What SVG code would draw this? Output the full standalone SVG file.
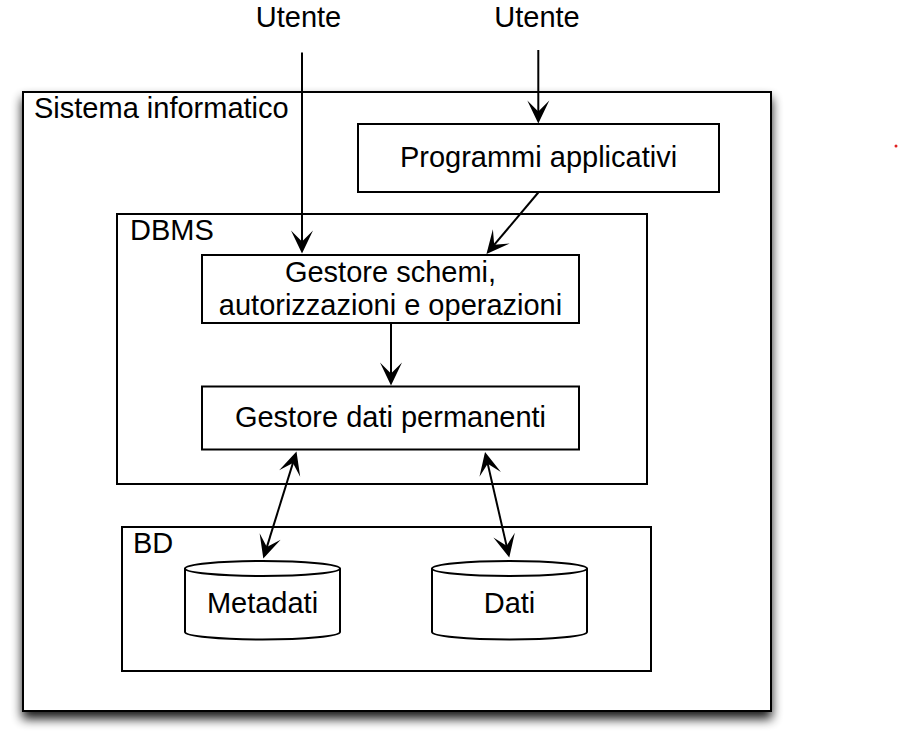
<svg xmlns="http://www.w3.org/2000/svg" width="899" height="738" viewBox="0 0 899 738">
  <defs>
    <filter id="shadow" x="-10%" y="-10%" width="120%" height="125%">
      <feGaussianBlur in="SourceAlpha" stdDeviation="5.5"/>
      <feOffset dx="0" dy="7" result="b"/>
      <feComponentTransfer><feFuncA type="linear" slope="0.9"/></feComponentTransfer>
      <feMerge><feMergeNode/><feMergeNode in="SourceGraphic"/></feMerge>
    </filter>
    <marker id="arrow" viewBox="-24 -12 30 24" refX="-3" refY="0" markerWidth="30" markerHeight="24" markerUnits="userSpaceOnUse" orient="auto-start-reverse">
      <path d="M0,0 L-23,-11 L-12,0 L-23,11 Z" fill="#000"/>
    </marker>
  </defs>
  <style>
    .box { fill: #fff; stroke: #000; stroke-width: 2; }
    .t { font-family: "Liberation Sans", Arial, sans-serif; font-size: 29px; fill: #000; }
    .c { text-anchor: middle; }
    .edge { stroke: #000; stroke-width: 2; fill: none; }
  </style>
  <rect width="899" height="738" fill="#fff"/>

  <g id="sistema">
    <rect class="box" x="23" y="92" width="748" height="619" filter="url(#shadow)"/>
    <text class="t" x="34" y="118">Sistema informatico</text>
  </g>
  <g id="programmi">
    <rect class="box" x="358" y="124" width="361" height="68"/>
    <text class="t c" x="538.5" y="167">Programmi applicativi</text>
  </g>
  <g id="dbms">
    <rect class="box" x="117" y="214" width="530" height="270"/>
    <text class="t" x="130" y="240">DBMS</text>
  </g>
  <g id="gestore-schemi">
    <rect class="box" x="202" y="255" width="377" height="68"/>
    <text class="t c" x="390.5" y="281.5">Gestore schemi,</text>
    <text class="t c" x="390.5" y="315">autorizzazioni e operazioni</text>
  </g>
  <g id="gestore-dati">
    <rect class="box" x="202" y="386.5" width="377" height="63"/>
    <text class="t c" x="390.5" y="427">Gestore dati permanenti</text>
  </g>
  <g id="bd">
    <rect class="box" x="122" y="527" width="529" height="144"/>
    <text class="t" x="133" y="553">BD</text>
  </g>
  <g id="metadati">
    <path class="box" d="M185,568.5 L185,632 A77.5,7.5 0 0 0 340,632 L340,568.5 A77.5,7.5 0 0 0 185,568.5 Z"/>
    <path class="edge" d="M185,568.5 A77.5,7.5 0 0 0 340,568.5"/>
    <text class="t c" x="262.5" y="613">Metadati</text>
  </g>
  <g id="dati">
    <path class="box" d="M432,568.5 L432,632 A77.5,7.5 0 0 0 587,632 L587,568.5 A77.5,7.5 0 0 0 432,568.5 Z"/>
    <path class="edge" d="M432,568.5 A77.5,7.5 0 0 0 587,568.5"/>
    <text class="t c" x="509.5" y="613">Dati</text>
  </g>
  <g id="utente1">
    <text class="t c" x="298.5" y="27">Utente</text>
  </g>
  <g id="utente2">
    <text class="t c" x="537" y="27">Utente</text>
  </g>

  <g id="connectors">
    <line class="edge" x1="302" y1="52.5" x2="302" y2="250.5" marker-end="url(#arrow)"/>
    <line class="edge" x1="538.3" y1="50" x2="538.3" y2="120.5" marker-end="url(#arrow)"/>
    <line class="edge" x1="538.3" y1="192.5" x2="488.4" y2="251.7" marker-end="url(#arrow)"/>
    <line class="edge" x1="391" y1="323" x2="391" y2="382.5" marker-end="url(#arrow)"/>
    <line class="edge" x1="295.6" y1="454.4" x2="264.2" y2="555.6" marker-start="url(#arrow)" marker-end="url(#arrow)"/>
    <line class="edge" x1="485.7" y1="454.9" x2="508.6" y2="554.6" marker-start="url(#arrow)" marker-end="url(#arrow)"/>
  </g>

  <circle cx="896" cy="146" r="1.5" fill="#e02020"/>
</svg>
